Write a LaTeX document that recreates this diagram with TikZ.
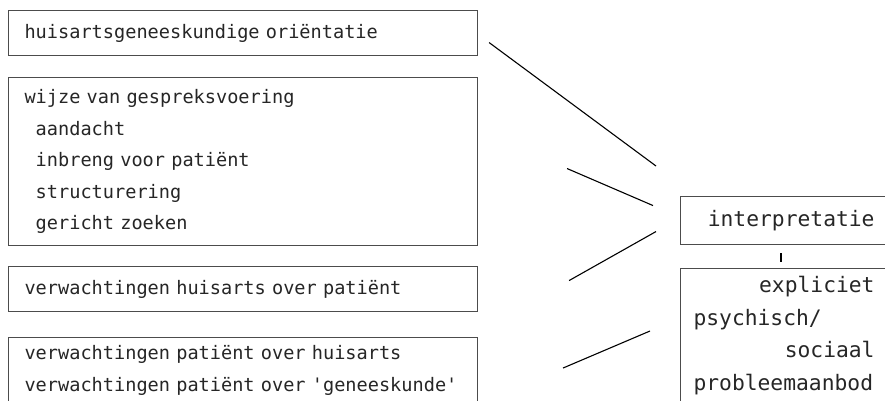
\documentclass[tikz,border=0pt]{standalone}
\usepackage{fontspec}
\setmonofont{DejaVu Sans Mono}
\usetikzlibrary{calc}

\newcommand{\ind}{\hspace*{0.602em}}
\newcommand{\rt}[1]{\hspace*{\fill}#1\kern40pt}

\begin{document}
\begin{tikzpicture}[x=1pt,y=-1pt,line width=1.1pt,
	every node/.style={font=\ttfamily\fontsize{18.6}{31.6}\selectfont,text=black!85},
	box/.style={draw=black!70,rectangle,anchor=north west,align=left,inner xsep=16pt,inner ysep=8pt,text width=437pt,minimum height=45pt},
	rbox/.style={box,inner xsep=13pt,text width=221pt,font=\ttfamily\fontsize{21.3}{32.5}\selectfont}]

	\useasboundingbox (0,0) rectangle (885,400);

	\node[box] (orient) at (8,10) {huisartsgeneeskundige oriëntatie};
	\node[box,minimum height=168pt] (gesprek) at (8,77) {wijze van gespreksvoering\\ \ind aandacht\\ \ind inbreng voor patiënt\\ \ind structurering\\ \ind gericht zoeken};
	\node[box] (verwha) at (8,266) {verwachtingen huisarts over patiënt};
	\node[box] (verwpa) at (8,337) {verwachtingen patiënt over huisarts\\ verwachtingen patiënt over 'geneeskunde'};

	\node[rbox,minimum height=48pt] (interp) at (680,196) {\rt{interpretatie}};
	\node[rbox] (aanbod) at (680,268) {\rt{expliciet}\\ psychisch/\\ \rt{sociaal}\\ probleemaanbod};

	\coordinate (o1) at ($(orient.east)+(11,9.5)$);
	\coordinate (i1) at ($(interp.north west)+(-24,-30)$);
	\coordinate (g1) at ($(gesprek.east)+(89,7)$);
	\coordinate (i2) at ($(interp.west)+(-27,-15)$);
	\coordinate (h1) at ($(verwha.east)+(91,-8.5)$);
	\coordinate (i3) at ($(interp.west)+(-24,11)$);
	\coordinate (p1) at ($(verwpa.north east)+(85,31)$);
	\coordinate (a1) at ($(aanbod.north west)+(-30,63)$);

	\path (o1) edge (i1)
	      (g1) edge (i2)
	      (h1) edge (i3)
	      (p1) edge (a1);
	\draw[shorten <=8pt,shorten >=6pt] ([xshift=101pt]interp.south west) -- ([xshift=101pt]aanbod.north west);
\end{tikzpicture}
\end{document}
